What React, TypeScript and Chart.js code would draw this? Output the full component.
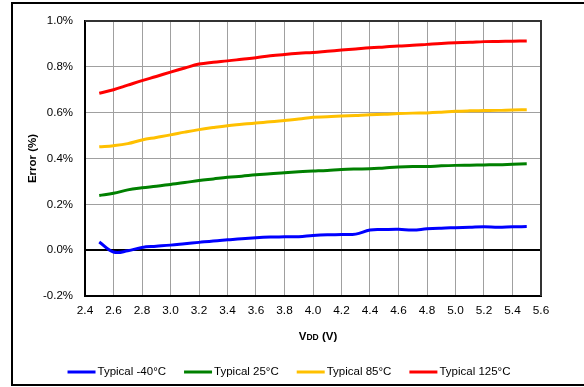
import React, { useEffect, useRef } from "react";
import { Chart, registerables } from "chart.js";

Chart.register(...registerables);

const vdd = [2.5, 2.6, 2.7, 2.8, 2.9, 3.0, 3.1, 3.2, 3.3, 3.4, 3.5, 3.6, 3.7, 3.8, 3.9, 4.0, 4.1, 4.2, 4.3, 4.4, 4.5, 4.6, 4.7, 4.8, 4.9, 5.0, 5.1, 5.2, 5.3, 5.4, 5.5];

const errMinus40 = [0.036, -0.008, -0.003, 0.012, 0.017, 0.022, 0.028, 0.034, 0.040, 0.045, 0.050, 0.054, 0.057, 0.059, 0.059, 0.064, 0.067, 0.068, 0.070, 0.088, 0.090, 0.091, 0.088, 0.093, 0.096, 0.098, 0.100, 0.102, 0.100, 0.102, 0.103];
const err25 = [0.239, 0.248, 0.263, 0.272, 0.279, 0.287, 0.295, 0.304, 0.311, 0.318, 0.323, 0.329, 0.333, 0.338, 0.342, 0.345, 0.348, 0.352, 0.354, 0.355, 0.359, 0.363, 0.365, 0.365, 0.368, 0.370, 0.371, 0.372, 0.373, 0.375, 0.377];
const err85 = [0.451, 0.456, 0.465, 0.481, 0.492, 0.503, 0.515, 0.526, 0.535, 0.543, 0.549, 0.555, 0.560, 0.566, 0.572, 0.580, 0.582, 0.585, 0.588, 0.591, 0.593, 0.596, 0.598, 0.599, 0.602, 0.606, 0.608, 0.609, 0.610, 0.612, 0.613];
const err125 = [0.685, 0.700, 0.720, 0.740, 0.758, 0.777, 0.795, 0.812, 0.820, 0.826, 0.833, 0.840, 0.848, 0.854, 0.859, 0.863, 0.868, 0.873, 0.878, 0.883, 0.887, 0.891, 0.894, 0.898, 0.902, 0.905, 0.907, 0.910, 0.911, 0.912, 0.913];

const seriesLabels = ["Typical -40°C", "Typical 25°C", "Typical 85°C", "Typical 125°C"];
const seriesColors = ["#0000FF", "#008000", "#FFC000", "#FF0000"];
const seriesValues = [errMinus40, err25, err85, err125];

const FONT = "'Liberation Sans', Arial, sans-serif";

const customPlugin = {
  id: "customDecor",
  afterDraw(chart: any) {
    const { ctx, chartArea } = chart;
    ctx.save();
    // plot frame top/right
    ctx.strokeStyle = "#333";
    ctx.lineWidth = 2;
    ctx.beginPath();
    ctx.moveTo(chartArea.left, chartArea.top);
    ctx.lineTo(chartArea.right, chartArea.top);
    ctx.lineTo(chartArea.right, chartArea.bottom);
    ctx.stroke();
    // outer box
    ctx.strokeStyle = "#000";
    ctx.lineWidth = 2;
    ctx.beginPath();
    ctx.moveTo(600, 3);
    ctx.lineTo(12, 3);
    ctx.lineTo(12, 385);
    ctx.lineTo(600, 385);
    ctx.stroke();

    // x title: V DD (V)
    ctx.fillStyle = "#000";
    ctx.textBaseline = "alphabetic";
    ctx.textAlign = "left";
    const big = `bold 11.5px ${FONT}`;
    const small = `bold 8.5px ${FONT}`;
    ctx.font = big;
    const w1 = ctx.measureText("V").width;
    const w3 = ctx.measureText(" (V)").width;
    ctx.font = small;
    const w2 = ctx.measureText("DD").width;
    const total = w1 + w2 + w3;
    const cx = (chartArea.left + chartArea.right) / 2 + 5;
    let x = cx - total / 2;
    const y = 340;
    ctx.font = big;
    ctx.fillText("V", x, y);
    x += w1;
    ctx.font = small;
    ctx.fillText("DD", x, y);
    x += w2;
    ctx.font = big;
    ctx.fillText(" (V)", x, y);

    // legend
    ctx.font = `11.5px ${FONT}`;
    const lineLen = 28;
    const gap = 2;
    const itemGap = 18;
    const widths = seriesLabels.map((l) => ctx.measureText(l).width);
    const legendTotal = widths.reduce((a, w) => a + lineLen + gap + w, 0) + itemGap * (seriesLabels.length - 1);
    let lx = 289 - legendTotal / 2;
    const ly = 372;
    ctx.textBaseline = "middle";
    seriesLabels.forEach((label, i) => {
      ctx.strokeStyle = seriesColors[i];
      ctx.lineWidth = 3;
      ctx.beginPath();
      ctx.moveTo(lx, ly);
      ctx.lineTo(lx + lineLen, ly);
      ctx.stroke();
      ctx.fillStyle = "#000";
      ctx.fillText(label, lx + lineLen + gap, ly);
      lx += lineLen + gap + widths[i] + itemGap;
    });
    ctx.restore();
  },
};

const fmt = (v: any, suffix: string) => {
  const n = Math.abs(Number(v)) < 1e-9 ? 0 : Number(v);
  return n.toFixed(1) + suffix;
};

export default function App() {
  const canvasRef = useRef<HTMLCanvasElement>(null);

  useEffect(() => {
    document.body.style.margin = "0";
    const canvas = canvasRef.current;
    if (!canvas) return;
    const chart = new Chart(canvas, {
      type: "line",
      data: {
        datasets: seriesLabels.map((label, i) => ({
          label,
          data: vdd.map((v, j) => ({ x: v, y: seriesValues[i][j] })),
          borderColor: seriesColors[i],
          backgroundColor: seriesColors[i],
          borderWidth: 3,
          pointRadius: 0,
          tension: 0.4,
          fill: false,
        })),
      },
      options: {
        animation: false,
        responsive: false,
        maintainAspectRatio: false,
        layout: { padding: { left: 12, top: 21, right: 43, bottom: 51 } },
        plugins: {
          legend: { display: false },
          tooltip: { enabled: false },
        },
        scales: {
          x: {
            type: "linear",
            min: 2.4,
            max: 5.6,
            afterFit: (s: any) => {
              s.height = 40;
            },
            ticks: {
              stepSize: 0.2,
              autoSkip: false,
              maxRotation: 0,
              padding: 8,
              color: "#000",
              font: { family: FONT, size: 11.8 },
              callback: (v: any) => fmt(v, ""),
            },
            grid: {
              drawTicks: false,
              color: "#a0a0a0",
              lineWidth: 1,
            },
            border: { display: true, color: "#000", width: 2 },
          },
          y: {
            type: "linear",
            min: -0.2,
            max: 1.0,
            afterFit: (s: any) => {
              s.width = 73;
            },
            ticks: {
              stepSize: 0.2,
              padding: 12,
              color: "#000",
              font: { family: FONT, size: 11.5 },
              callback: (v: any) => fmt(v, "%"),
            },
            grid: {
              drawTicks: false,
              color: (c: any) => (Math.abs(c.tick.value) < 1e-9 ? "#000" : "#a0a0a0"),
              lineWidth: (c: any) => (Math.abs(c.tick.value) < 1e-9 ? 2 : 1),
            },
            border: { display: true, color: "#000", width: 2 },
            title: {
              display: true,
              text: "Error (%)",
              color: "#000",
              font: { family: FONT, size: 11.5, weight: "bold" },
              padding: { top: 14, bottom: 0 },
            },
          },
        },
      },
      plugins: [customPlugin],
    });
    return () => chart.destroy();
  }, []);

  return (
    <div style={{ width: 584, height: 387, position: "relative" }}>
      <canvas ref={canvasRef} width={584} height={387} style={{ display: "block" }} />
    </div>
  );
}
